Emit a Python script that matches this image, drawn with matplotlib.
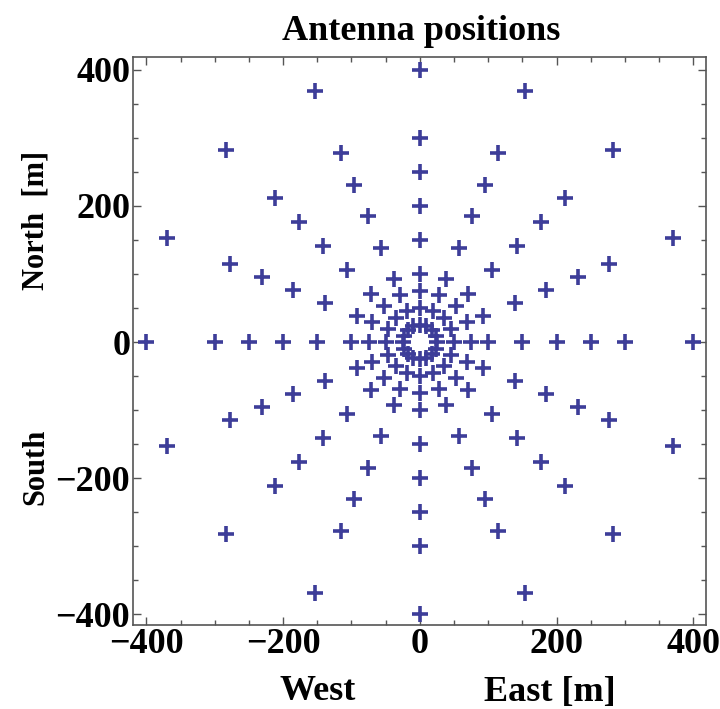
import numpy as np
import matplotlib
matplotlib.use("Agg")
import matplotlib.pyplot as plt
from matplotlib.ticker import MultipleLocator

# ---- data: antenna layout (16 radial arms, same radii on each arm) ----
arm_angles_deg = [0, 22.5, 45, 67.5, 90, 112.5, 135, 157.5,
                  180, 202.5, 225, 247.5, 270, 292.5, 315, 337.5]
arm_radii_m = [25, 50, 75, 100, 150, 200, 250, 300, 400]
x_ticks = [-400, -200, 0, 200, 400]
y_ticks = [-400, -200, 0, 200, 400]
title_text = "Antenna positions"

ang = np.deg2rad(np.repeat(arm_angles_deg, len(arm_radii_m)))
rad = np.tile(arm_radii_m, len(arm_angles_deg))
east = rad * np.cos(ang)
north = rad * np.sin(ang)

W, H = 720, 709
fig = plt.figure(figsize=(W / 100, H / 100), dpi=100)
L, R, T, B = 133, 706, 57, 625
ax = fig.add_axes([L / W, 1 - B / H, (R - L) / W, (B - T) / H])

color = (0.24, 0.24, 0.6)
ax.plot(east, north, linestyle="none", marker="+", markersize=12,
        markeredgewidth=2.6, color=color)

ax.set_xlim(-419.5, 418.5)
ax.set_ylim(-416, 419)
ax.set_xticks(x_ticks)
ax.set_yticks(y_ticks)
ax.xaxis.set_minor_locator(MultipleLocator(50))
ax.yaxis.set_minor_locator(MultipleLocator(50))

fam = ["Liberation Serif", "DejaVu Serif"]
edge = "#555555"
for s in ax.spines.values():
    s.set_linewidth(1.2)
    s.set_color(edge)
ax.tick_params(which="both", direction="in", top=True, right=True,
               color=edge, width=1.0)
ax.tick_params(which="major", length=6)
ax.tick_params(which="minor", length=3.5)
ax.tick_params(axis="x", which="major", pad=2)
ax.tick_params(axis="y", which="major", pad=2)
for lab in ax.get_xticklabels() + ax.get_yticklabels():
    lab.set_fontfamily(fam)
    lab.set_fontweight("bold")
    lab.set_fontsize(26)

def ftext(px, py, s, size=26, **kw):
    fig.text(px / W, 1 - py / H, s, family=fam, weight="bold", size=size, **kw)

ftext(421, 31, title_text, ha="center", va="center")
ftext(318, 692, "West", ha="center", va="center")
ftext(550, 692, "East [m]", ha="center", va="center")
ftext(36, 220, "North  [m]", size=22, ha="center", va="center", rotation=90)
ftext(36, 467, "South", size=22, ha="center", va="center", rotation=90)

fig.savefig("out.png", dpi=100)
